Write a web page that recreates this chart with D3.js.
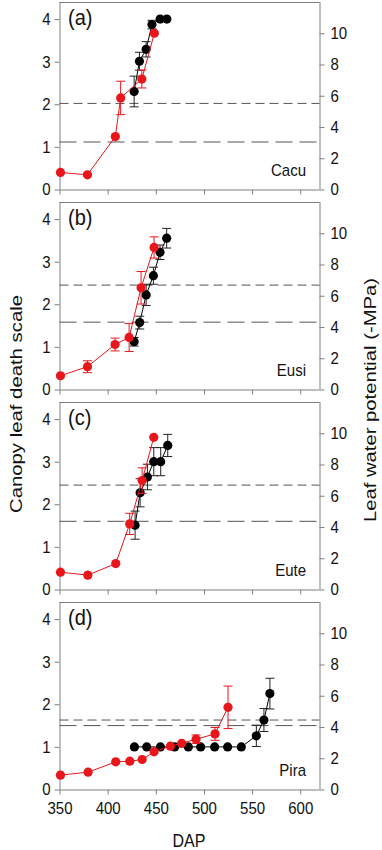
<!DOCTYPE html>
<html><head><meta charset="utf-8">
<script src="https://cdn.jsdelivr.net/npm/d3@7"></script>
<style>
body{margin:0;background:#fff;}
svg{display:block;font-family:"Liberation Sans",Arial,sans-serif;}
</style></head>
<body><svg id="c" width="382" height="850"></svg>
<script>
// ---- data ----
const xTicks = [350, 400, 450, 500, 550, 600];
const leftTicks = [0, 1, 2, 3, 4];
const rightTicks = [0, 2, 4, 6, 8, 10];
const panelLetters = ["(a)", "(b)", "(c)", "(d)"];
const species = ["Cacu", "Eusi", "Eute", "Pira"];

// red: leaf water potential (-MPa, right axis)
const redA_dap = [351, 379, 408, 413.5, 435.5, 448.5];
const redA_val = [1.09, 0.94, 3.39, 5.86, 7.07, 10.0];
const redA_err = [0, 0, 0, 1.07, 0.57, 0];
const redB_dap = [351, 379, 407.7, 422.3, 434.7, 448.2];
const redB_val = [0.88, 1.46, 2.88, 3.33, 6.51, 9.09];
const redB_err = [0, 0.38, 0.41, 0.9, 1.04, 0.68];
const redC_dap = [351, 379.4, 408.4, 422.9, 435.8, 447.9];
const redC_val = [1.11, 0.92, 1.66, 4.20, 6.97, 9.74];
const redC_err = [0, 0, 0, 0.68, 0.82, 0];
const redD_dap = [351, 379.7, 408.4, 423, 435.8, 448.2, 465.1, 476.9, 491.8, 511.5, 525];
const redD_val = [0.92, 1.11, 1.77, 1.81, 1.92, 2.41, 2.77, 2.96, 3.22, 3.56, 5.26];
const redD_err = [0, 0, 0, 0, 0, 0, 0, 0, 0.27, 0.41, 1.36];

// black: canopy leaf death scale (left axis)
const blkA_dap = [427.5, 433, 440, 446, 454.5, 461.5];
const blkA_val = [2.30, 3.01, 3.29, 3.87, 4.0, 4.0];
const blkA_err = [0.36, 0.21, 0.18, 0.1, 0, 0];
const blkB_dap = [427.5, 433.3, 440, 447.5, 454.4, 461.3];
const blkB_val = [1.12, 1.57, 2.22, 2.67, 3.22, 3.55];
const blkB_err = [0.1, 0.15, 0.25, 0.2, 0.17, 0.23];
const blkC_dap = [428.5, 433.7, 441.3, 447.9, 455.1, 462.4];
const blkC_val = [1.51, 2.27, 2.64, 3.0, 3.0, 3.38];
const blkC_err = [0.33, 0.33, 0.3, 0.33, 0.33, 0.26];
const blkD_dap = [427.8, 440.6, 454.8, 469.6, 483.8, 496.6, 511.1, 524.6, 538.8, 554.4, 562.3, 568.5];
const blkD_val = [1, 1, 1, 1, 1, 1, 1, 1, 1, 1.26, 1.63, 2.25];
const blkD_err = [0, 0, 0, 0, 0, 0, 0, 0, 0, 0.25, 0.27, 0.36];

// threshold lines (left-axis units): [short-dash, long-dash]
const threshA = [2.02, 1.115];
const threshB = [2.45, 1.58];
const threshC = [2.45, 1.60];
const threshD = [1.63, 1.50];

const panels = [
  {red:[redA_dap,redA_val,redA_err], blk:[blkA_dap,blkA_val,blkA_err], th:threshA},
  {red:[redB_dap,redB_val,redB_err], blk:[blkB_dap,blkB_val,blkB_err], th:threshB},
  {red:[redC_dap,redC_val,redC_err], blk:[blkC_dap,blkC_val,blkC_err], th:threshC},
  {red:[redD_dap,redD_val,redD_err], blk:[blkD_dap,blkD_val,blkD_err], th:threshD}
];

// ---- layout ----
const svg = d3.select("#c");
const X0 = 59.5, X1 = 319.5, PH = 187.5, STEP = 200, TOP0 = 2;
const RED = "#e8161b", AX = "#808080", S = 1.13;
const x = d3.scaleLinear().domain([350, 620]).range([X0, X1]);

function stretchedText(parent, tx, ty, size, anchor, str) {
  return parent.append("text")
    .attr("transform", `translate(${tx},${ty}) scale(1,${S})`)
    .attr("text-anchor", anchor).attr("font-size", size).attr("fill", "#111").text(str);
}

panels.forEach((p, i) => {
  const top = TOP0 + i * STEP, bot = top + PH;
  const yL = d3.scaleLinear().domain([0, 4.4]).range([bot, top]);
  const yR = d3.scaleLinear().domain([0, 12]).range([bot, top]);
  const g = svg.append("g");

  g.append("line").attr("x1", X0).attr("x2", X1).attr("y1", top + 0.5).attr("y2", top + 0.5)
    .attr("stroke", AX).attr("stroke-width", 1);

  const xa = d3.axisBottom(x).tickValues(xTicks).tickSize(5).tickPadding(8)
    .tickFormat(i === 3 ? d3.format("d") : () => "");
  const gx = g.append("g").attr("transform", `translate(0,${bot})`).call(xa);
  const ya = d3.axisLeft(yL).tickValues(leftTicks).tickSize(5).tickPadding(4).tickFormat(d3.format("d"));
  const gy = g.append("g").attr("transform", `translate(${X0},0)`).call(ya);
  const ra = d3.axisRight(yR).tickValues(rightTicks).tickSize(5).tickPadding(6).tickFormat(d3.format("d"));
  const gr = g.append("g").attr("transform", `translate(${X1},0)`).call(ra);
  [gx, gy, gr].forEach(a => {
    a.select(".domain").attr("stroke", AX);
    a.selectAll(".tick line").attr("stroke", AX);
    a.selectAll("text").attr("font-size", 15).attr("fill", "#111")
      .attr("font-family", '"Liberation Sans",Arial,sans-serif')
      .attr("transform", `scale(1,${S})`);
  });
  gx.selectAll("text").attr("y", 12.5 / S);
  gx.select(".domain").attr("d", `M${X0},0.5H${X1}`);
  gy.select(".domain").attr("d", `M0.5,${top}V${bot}`);
  gr.select(".domain").attr("d", `M0.5,${top}V${bot}`);

  g.append("line").attr("x1", X0).attr("x2", X1).attr("y1", yL(p.th[0])).attr("y2", yL(p.th[0]))
    .attr("stroke", "#555").attr("stroke-width", 1).attr("stroke-dasharray", "9,5");
  g.append("line").attr("x1", X0).attr("x2", X1).attr("y1", yL(p.th[1])).attr("y2", yL(p.th[1]))
    .attr("stroke", "#555").attr("stroke-width", 1).attr("stroke-dasharray", "17,7");

  function series(arr, yS, color, ecolor) {
    const pts = arr[0].map((d, k) => ({x: d, y: arr[1][k], e: arr[2][k]}));
    g.append("path").datum(pts)
      .attr("d", d3.line().x(d => x(d.x)).y(d => yS(d.y)))
      .attr("fill", "none").attr("stroke", color).attr("stroke-width", 1);
    const eb = g.append("g").attr("stroke", ecolor).attr("stroke-width", 1);
    pts.filter(d => d.e > 0).forEach(d => {
      const cx = x(d.x), y1 = yS(d.y + d.e), y2 = yS(d.y - d.e);
      eb.append("line").attr("x1", cx).attr("x2", cx).attr("y1", y1).attr("y2", y2);
      eb.append("line").attr("x1", cx - 4.5).attr("x2", cx + 4.5).attr("y1", y1).attr("y2", y1);
      eb.append("line").attr("x1", cx - 4.5).attr("x2", cx + 4.5).attr("y1", y2).attr("y2", y2);
    });
    g.append("g").selectAll("circle").data(pts).join("circle")
      .attr("cx", d => x(d.x)).attr("cy", d => yS(d.y)).attr("r", 4.6).attr("fill", color);
  }
  series(p.blk, yL, "#000", "#222");
  series(p.red, yR, RED, RED);

  stretchedText(g, 68, top + 22.5, 20, "start", panelLetters[i]);
  stretchedText(g, 306, bot - 13.5, 15, "end", species[i]);
});

stretchedText(svg, 189, 846.5, 16, "middle", "DAP");
svg.append("text").attr("transform", "translate(21.5,404) rotate(-90)").attr("text-anchor", "middle")
  .attr("font-size", 17).attr("fill", "#111")
  .attr("textLength", 218).attr("lengthAdjust", "spacingAndGlyphs").text("Canopy leaf death scale");
svg.append("text").attr("transform", "translate(376,400) rotate(-90)").attr("text-anchor", "middle")
  .attr("font-size", 17).attr("fill", "#111")
  .attr("textLength", 244).attr("lengthAdjust", "spacingAndGlyphs").text("Leaf water potential (-MPa)");
</script>
</body></html>
